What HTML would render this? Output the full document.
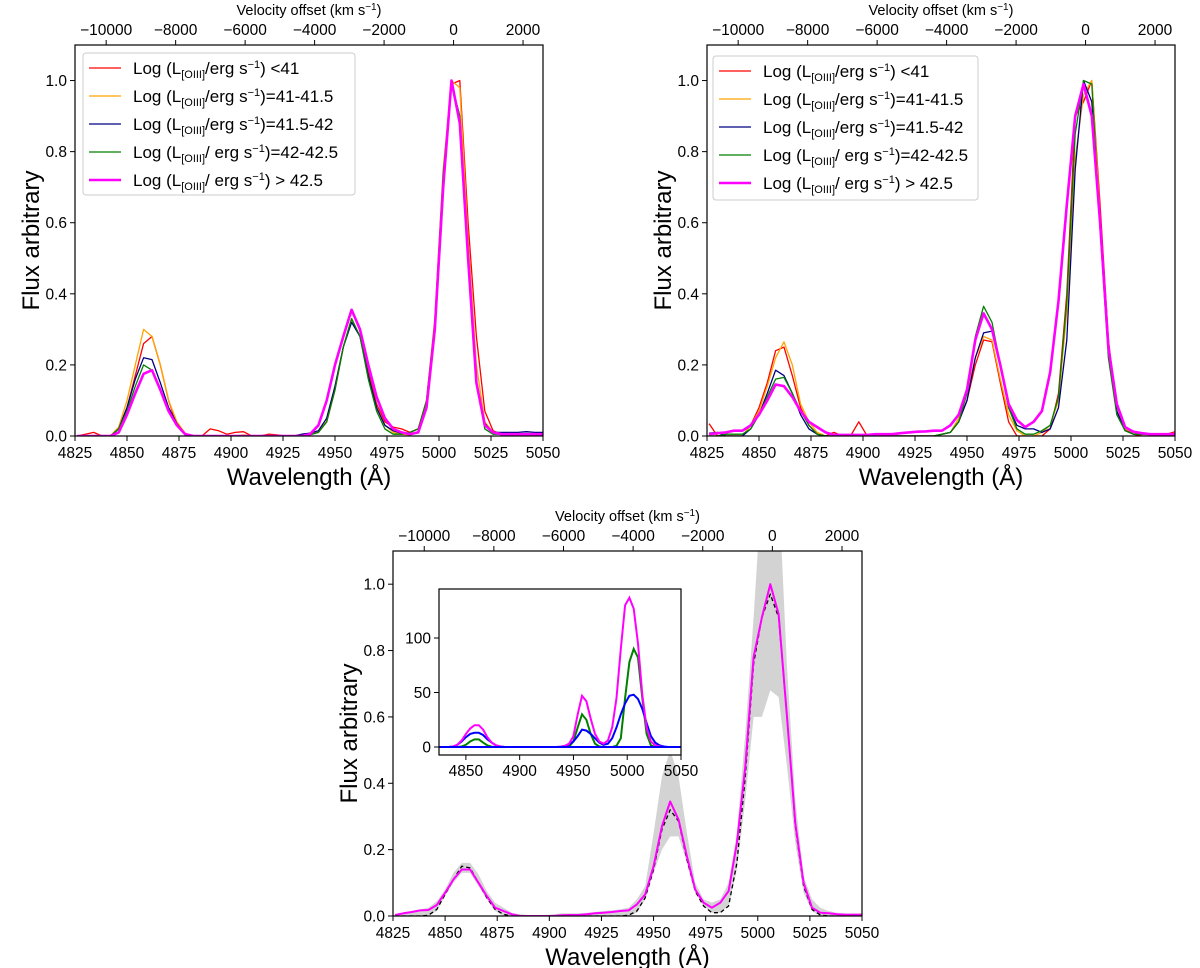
<!DOCTYPE html>
<html><head><meta charset="utf-8">
<style>
html,body{margin:0;padding:0;background:#fff;}
svg{display:block;font-family:"Liberation Sans","DejaVu Sans",sans-serif;}
</style></head>
<body>
<svg id="fig" width="1200" height="968" viewBox="0 0 1200 968" xmlns="http://www.w3.org/2000/svg"></svg>
<script>
// wavelength grid (Å)
const wave = [4826,4830,4834,4838,4842,4846,4850,4854,4858,4862,4866,4870,4874,4878,4882,4886,4890,4894,4898,4902,4906,4910,4914,4918,4922,4926,4930,4934,4938,4942,4946,4950,4954,4958,4962,4966,4970,4974,4978,4982,4986,4990,4994,4998,5002,5006,5010,5014,5018,5022,5026,5030,5034,5038,5042,5046,5050];
const xTicks = [4825,4850,4875,4900,4925,4950,4975,5000,5025,5050];
const yTicks = [0,0.2,0.4,0.6,0.8,1.0];
const yTickLabels = ["0.0","0.2","0.4","0.6","0.8","1.0"];
const velTicks = [-10000,-8000,-6000,-4000,-2000,0,2000];
const velTickLabels = ["\u221210000","\u22128000","\u22126000","\u22124000","\u22122000","0","2000"];
const insetXTicks = [4850,4900,4950,5000,5050];
const insetYTicks = [0,50,100];

// Panel A (top-left)
const aRed    = [0,0.005,0.01,0,0,0.02,0.08,0.17,0.26,0.28,0.2,0.1,0.03,0.005,0,0,0.02,0.015,0.005,0.01,0.012,0,0,0.005,0.003,0,0,0.003,0.005,0.01,0.04,0.13,0.25,0.33,0.28,0.18,0.09,0.04,0.025,0.02,0.01,0.02,0.1,0.32,0.72,0.99,1.0,0.6,0.28,0.07,0.015,0.005,0.005,0.005,0.005,0.005,0.005];
const aOrange = [0,0,0,0,0,0.025,0.1,0.2,0.3,0.28,0.2,0.1,0.04,0.008,0,0,0,0,0,0,0.003,0,0,0,0,0,0,0,0.005,0.01,0.05,0.14,0.25,0.33,0.28,0.17,0.08,0.03,0.01,0.005,0.003,0.01,0.1,0.33,0.75,1.0,0.98,0.55,0.2,0.04,0.01,0.005,0.005,0.005,0.005,0.005,0.005];
const aNavy   = [0,0,0,0,0,0.02,0.08,0.16,0.22,0.215,0.15,0.08,0.035,0.005,0,0,0,0,0,0,0,0,0,0,0,0,0,0.005,0.008,0.015,0.05,0.14,0.25,0.32,0.28,0.17,0.08,0.03,0.015,0.008,0.005,0.01,0.08,0.3,0.72,0.99,0.9,0.5,0.15,0.035,0.01,0.01,0.01,0.01,0.012,0.01,0.01];
const aGreen  = [0,0,0,0,0,0.02,0.07,0.14,0.2,0.185,0.13,0.07,0.03,0.005,0,0,0,0,0,0,0,0,0,0,0,0,0,0,0.003,0.01,0.04,0.13,0.25,0.33,0.28,0.16,0.07,0.02,0.005,0.005,0.01,0.02,0.1,0.32,0.74,0.99,0.9,0.5,0.15,0.02,0.005,0.005,0.005,0.005,0.005,0.005,0.005];
const aMag    = [0,0,0,0,0,0.01,0.06,0.12,0.175,0.185,0.13,0.07,0.03,0.005,0,0,0,0,0,0,0,0,0,0,0,0,0,0,0.005,0.03,0.1,0.2,0.28,0.355,0.3,0.2,0.11,0.05,0.02,0.01,0.005,0.01,0.08,0.3,0.7,1.0,0.88,0.5,0.15,0.03,0.01,0.005,0.005,0.005,0.005,0.005,0.005];

// Panel B (top-right)
const bRed    = [0.035,0,0,0,0,0.03,0.08,0.15,0.24,0.25,0.17,0.08,0.03,0.005,0,0.01,0,0,0.04,0,0,0,0,0,0,0,0,0,0.005,0.01,0.04,0.1,0.2,0.27,0.265,0.15,0.04,0,0,0,0,0.02,0.12,0.4,0.9,0.94,1.0,0.65,0.27,0.07,0.02,0.005,0,0,0.005,0.005,0.012];
const bOrange = [0,0,0,0,0,0.03,0.07,0.14,0.22,0.265,0.2,0.09,0.04,0.01,0,0,0,0,0,0,0,0,0,0,0,0,0,0,0.005,0.01,0.05,0.12,0.22,0.28,0.27,0.16,0.06,0.015,0,0,0.01,0.03,0.1,0.35,0.78,0.96,1.0,0.62,0.24,0.07,0.02,0.01,0.008,0.005,0.005,0.005,0.005];
const bNavy   = [0.008,0.01,0,0,0,0.02,0.06,0.12,0.185,0.17,0.12,0.06,0.02,0.005,0,0,0,0,0,0,0,0,0,0,0,0,0,0,0.005,0.01,0.04,0.1,0.22,0.29,0.295,0.2,0.08,0.03,0.02,0.02,0.01,0.02,0.08,0.27,0.75,1.0,0.94,0.6,0.24,0.07,0.015,0.005,0.005,0.005,0.005,0.005,0.005];
const bGreen  = [0,0,0.005,0.005,0.005,0.02,0.06,0.11,0.16,0.165,0.12,0.07,0.03,0.005,0,0,0,0,0,0,0,0,0,0,0,0,0,0,0.005,0.01,0.04,0.12,0.28,0.365,0.32,0.2,0.08,0.02,0.005,0.005,0.015,0.03,0.11,0.38,0.85,1.0,0.99,0.58,0.22,0.06,0.015,0.005,0.005,0.005,0.005,0.005,0.005];
const bMag    = [0.005,0.008,0.01,0.015,0.015,0.03,0.06,0.1,0.145,0.14,0.11,0.07,0.04,0.025,0.01,0.003,0.003,0.003,0.003,0.003,0.005,0.005,0.005,0.008,0.01,0.012,0.013,0.015,0.015,0.03,0.06,0.13,0.27,0.345,0.3,0.2,0.09,0.045,0.025,0.04,0.07,0.18,0.38,0.65,0.9,0.99,0.9,0.6,0.25,0.09,0.025,0.012,0.008,0.005,0.005,0.005,0.005];

// Panel C (bottom)
const cMag    = [0.003,0.008,0.012,0.017,0.018,0.033,0.07,0.11,0.14,0.14,0.1,0.06,0.025,0.015,0.005,0,0,0,0,0,0.002,0.003,0.003,0.005,0.008,0.01,0.012,0.015,0.017,0.035,0.065,0.15,0.27,0.345,0.29,0.18,0.08,0.04,0.025,0.04,0.075,0.22,0.45,0.78,0.9,1.0,0.91,0.6,0.28,0.1,0.025,0.01,0.008,0.005,0.004,0.004,0.004];
const cBlack  = [0,0,0,0,0.002,0.02,0.065,0.11,0.15,0.145,0.1,0.055,0.02,0.005,0,0,0,0,0,0,0,0,0,0,0,0,0,0,0.002,0.015,0.055,0.14,0.26,0.32,0.285,0.17,0.075,0.03,0.01,0.01,0.03,0.16,0.42,0.76,0.9,0.97,0.9,0.6,0.27,0.09,0.02,0.003,0,0,0,0,0];
const cLow    = [0,0,0,0,0,0.015,0.06,0.1,0.13,0.13,0.09,0.05,0.015,0,0,0,0,0,0,0,0,0,0,0,0,0,0,0,0,0.01,0.05,0.13,0.2,0.24,0.24,0.16,0.07,0.03,0.01,0.01,0.03,0.14,0.35,0.6,0.6,0.68,0.66,0.45,0.22,0.07,0.015,0,0,0,0,0,0];
const cHigh   = [0.005,0.01,0.015,0.02,0.025,0.045,0.08,0.13,0.16,0.16,0.125,0.075,0.04,0.025,0.01,0.005,0.003,0.003,0.003,0.005,0.008,0.008,0.008,0.01,0.012,0.015,0.017,0.02,0.025,0.05,0.09,0.25,0.42,0.5,0.42,0.25,0.1,0.05,0.04,0.05,0.1,0.25,0.55,0.9,1.3,1.3,1.3,0.75,0.35,0.12,0.05,0.025,0.015,0.01,0.008,0.008,0.008];
// Inset
const iMag    = [0,0,0,0.5,2,6,12,17,20,20,16,9,4,1.5,0.5,0,0,0,0,0,0,0,0,0,0,0,0,0,0.3,1,3,10,30,47,42,26,12,5,3,6,18,45,90,130,137,127,95,48,18,5,1.5,0.5,0,0,0,0,0];
const iGreen  = [0,0,0,0,0,0.5,2,5,7,7,4,1.5,0.3,0,0,0,0,0,0,0,0,0,0,0,0,0,0,0,0,0,0.5,5,18,30,25,12,3,0.5,0,0,0,1,8,45,78,90,82,45,12,1.5,0,0,0,0,0,0,0];
const iBlue   = [0,0,0,0.5,2,5,9,12,13,13,11,7,4,1.5,0.5,0,0,0,0,0,0,0,0,0,0,0,0,0,0.3,1,2.5,5,10,16,15,12,8,4,2,3,8,18,30,40,47,48,44,35,22,10,4,1.5,0.5,0,0,0,0];

const svg = document.getElementById('fig');
const NS = 'http://www.w3.org/2000/svg';
const TICK = 15.5;
function mk(tag, attrs, parent){
  const e = document.createElementNS(NS, tag);
  for (const k in attrs) e.setAttribute(k, attrs[k]);
  (parent||svg).appendChild(e);
  return e;
}
function txt(s, x, y, size, anchor, parent){
  const t = mk('text', {x:x, y:y, 'font-size':size, 'text-anchor':anchor||'middle', fill:'#000'}, parent);
  t.textContent = s;
  return t;
}
const C = 299792.458, L0 = 5007;
function velToWave(v){ return L0*(1+v/C); }

function makePanel(cfg){
  const g = mk('g', {});
  
  
  const X = w => cfg.x0 + (w-4825)/(5050-4825)*(cfg.x1-cfg.x0);
  const Y = v => cfg.y0 - v/1.1*(cfg.y0-cfg.yTop);
  const clipId = 'clip-'+cfg.name;
  const cp = mk('clipPath', {id:clipId}, g);
  mk('rect', {x:cfg.x0, y:cfg.yTop, width:cfg.x1-cfg.x0, height:cfg.y0-cfg.yTop}, cp);
  const plot = mk('g', {'clip-path':'url(#'+clipId+')'}, g);
  
  
  function line(vals, color, width, dash, name){
    const d = vals.map((v,i)=>(i?'L':'M')+X(wave[i]).toFixed(1)+','+Y(v).toFixed(1)).join(' ');
    const p = mk('path', {d:d, fill:'none', stroke:color, 'stroke-width':width, 'stroke-linejoin':'round'}, plot);
    if (dash) p.setAttribute('stroke-dasharray', dash);
    
    
  }
  if (cfg.band){
    let d = cfg.band[1].map((v,i)=>(i?'L':'M')+X(wave[i]).toFixed(1)+','+Y(v).toFixed(1)).join(' ');
    for (let i=wave.length-1;i>=0;i--) d += ' L'+X(wave[i]).toFixed(1)+','+Y(cfg.band[0][i]).toFixed(1);
    const p = mk('path', {d:d+' Z', fill:'#d3d3d3', stroke:'none'}, plot);
    
    
  }
  cfg.series.forEach(s => line(s.v, s.c, s.w, s.dash, s.n));
  const fr = mk('rect', {x:cfg.x0, y:cfg.yTop, width:cfg.x1-cfg.x0, height:cfg.y0-cfg.yTop, fill:'none', stroke:'#000', 'stroke-width':1.2}, g);
  
  
  xTicks.forEach(t => {
    mk('line', {x1:X(t), x2:X(t), y1:cfg.y0, y2:cfg.y0+5, stroke:'#000'}, g);
    const l = txt(String(t), X(t), cfg.y0+22, TICK, 'middle', g);
    
    
  });
  yTicks.forEach((t,i) => {
    mk('line', {x1:cfg.x0-5, x2:cfg.x0, y1:Y(t), y2:Y(t), stroke:'#000'}, g);
    const l = txt(yTickLabels[i], cfg.x0-8, Y(t)+5.5, TICK, 'end', g);
    
    
  });
  velTicks.forEach((v,i) => {
    const x = X(velToWave(v));
    mk('line', {x1:x, x2:x, y1:cfg.yTop-5, y2:cfg.yTop, stroke:'#000'}, g);
    const l = txt(velTickLabels[i], x, cfg.yTop-10, TICK, 'middle', g);
    
    
  });
  const cx = (cfg.x0+cfg.x1)/2;
  const vt = mk('text', {x:cx, y:cfg.yTop-30, 'font-size':14.5, 'text-anchor':'middle'}, g);
  vt.innerHTML = 'Velocity offset (km s<tspan dy="-5" font-size="10">\u22121</tspan><tspan dy="5">)</tspan>';
  
  
  const xt = txt('Wavelength (\u00c5)', cx, cfg.y0+49, 24, 'middle', g);
  
  
  const yt = mk('text', {x:0, y:0, 'font-size':24, 'text-anchor':'middle', transform:'translate('+(cfg.x0-36)+','+((cfg.y0+cfg.yTop)/2)+') rotate(-90)'}, g);
  yt.textContent = 'Flux arbitrary';
  
  
  if (cfg.legend){
    const L = cfg.legend;
    const lg = mk('g', {}, g);
    
    
    mk('rect', {x:L.x, y:L.y, width:L.w, height:L.h, rx:3, fill:'#fff', 'fill-opacity':0.8, stroke:'#ccc'}, lg);
    const labels = [
      ['/erg s',') &lt;41'],
      ['/erg s',')=41-41.5'],
      ['/erg s',')=41.5-42'],
      ['/ erg s',')=42-42.5'],
      ['/ erg s',') &gt; 42.5']];
    cfg.series.forEach((s,i) => {
      const yy = L.y + 15 + i*28;
      const e = mk('g', {}, lg);
      
      
      mk('line', {x1:L.x+6, x2:L.x+38, y1:yy, y2:yy, stroke:s.c, 'stroke-width':s.w}, e);
      const t = mk('text', {x:L.x+50, y:yy+6, 'font-size':17}, e);
      t.innerHTML = 'Log (L<tspan dy="4" font-size="11">[OIII]</tspan><tspan dy="-4">'+labels[i][0]+'</tspan><tspan dy="-6" font-size="11">\u22121</tspan><tspan dy="6">'+labels[i][1]+'</tspan>';
    });
  }
  return {X:X, Y:Y, g:g};
}

const names = ['series-lt41','series-41-41.5','series-41.5-42','series-42-42.5','series-gt42.5'];
makePanel({name:'panel-top-left', x0:75, x1:543, y0:436, yTop:45,
  series:[{v:aRed,c:'#ff0000',w:1.3,n:names[0]},{v:aOrange,c:'#ffa500',w:1.3,n:names[1]},{v:aNavy,c:'#000080',w:1.3,n:names[2]},{v:aGreen,c:'#008000',w:1.3,n:names[3]},{v:aMag,c:'#ff00ff',w:2.6,n:names[4]}],
  legend:{x:83,y:53,w:272,h:142}});
makePanel({name:'panel-top-right', x0:707, x1:1175, y0:436, yTop:45,
  series:[{v:bRed,c:'#ff0000',w:1.3,n:names[0]},{v:bOrange,c:'#ffa500',w:1.3,n:names[1]},{v:bNavy,c:'#000080',w:1.3,n:names[2]},{v:bGreen,c:'#008000',w:1.3,n:names[3]},{v:bMag,c:'#ff00ff',w:2.6,n:names[4]}],
  legend:{x:713,y:56,w:265,h:144}});
makePanel({name:'panel-bottom', x0:393, x1:862, y0:916, yTop:551, band:[cLow,cHigh],
  series:[{v:cBlack,c:'#000',w:1.3,dash:'4,3',n:'series-mean-dashed'},{v:cMag,c:'#ff00ff',w:2,n:'series-stack'}]});

(function(){
  const x0=439, x1=681, yb=755, yt=589;
  const g = mk('g', {});
  
  
  mk('rect', {x:x0, y:yt, width:x1-x0, height:yb-yt, fill:'#fff', stroke:'none'}, g);
  const X = w => x0 + (w-4825)/225*(x1-x0);
  const Y = v => 747 - v*1.09;
  [[iGreen,'#008000','inset-narrow'],[iBlue,'#0000ff','inset-broad'],[iMag,'#ff00ff','inset-total']].forEach(s=>{
    const d = s[0].map((v,i)=>(i?'L':'M')+X(wave[i]).toFixed(1)+','+Y(v).toFixed(1)).join(' ');
    const p = mk('path', {d:d, fill:'none', stroke:s[1], 'stroke-width':2}, g);
    
    
  });
  const base = mk('line', {x1:x0, x2:x1, y1:Y(0), y2:Y(0), stroke:'#0000ff', 'stroke-width':2}, g);
  
  
  mk('rect', {x:x0, y:yt, width:x1-x0, height:yb-yt, fill:'none', stroke:'#000', 'stroke-width':1.2}, g);
  insetXTicks.forEach(t=>{
    mk('line', {x1:X(t), x2:X(t), y1:yb, y2:yb+5, stroke:'#000'}, g);
    const l = txt(String(t), X(t), yb+21, TICK, 'middle', g);
    
    
  });
  insetYTicks.forEach(t=>{
    mk('line', {x1:x0-5, x2:x0, y1:Y(t), y2:Y(t), stroke:'#000'}, g);
    const l = txt(String(t), x0-8, Y(t)+5.5, TICK, 'end', g);
    
    
  });
})();
</script>
</body></html>
